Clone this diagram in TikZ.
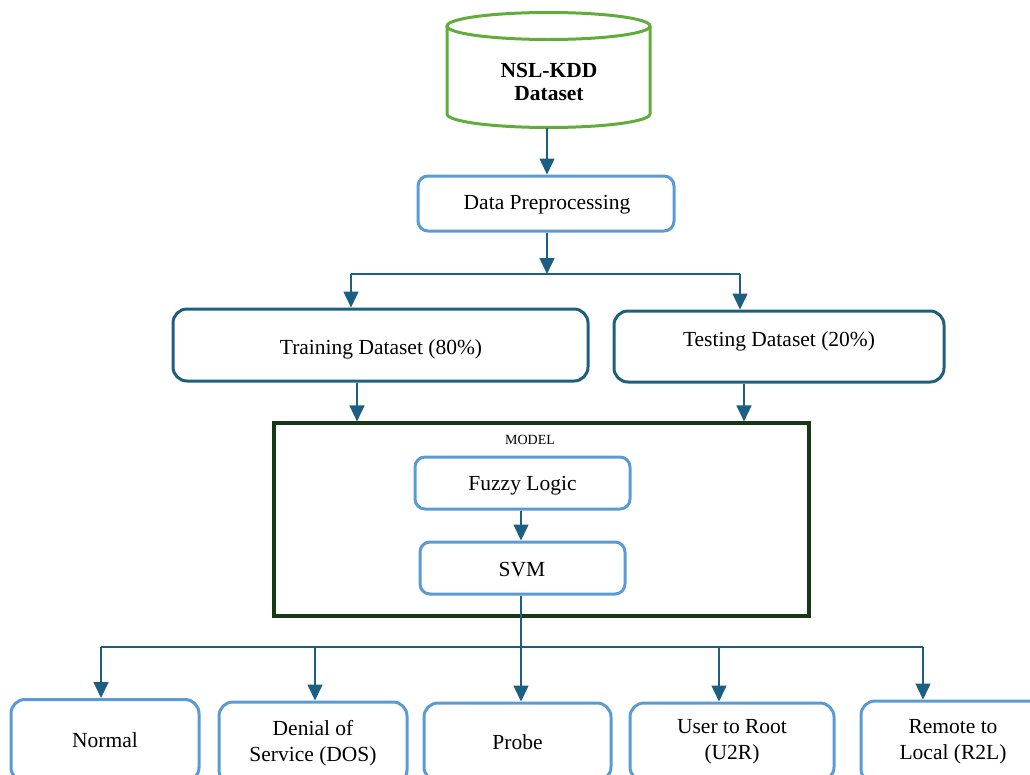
\documentclass[tikz,border=0pt]{standalone}
\usepackage{fontspec}
\setmainfont{Liberation Serif}
\usetikzlibrary{arrows.meta}
\definecolor{arrc}{HTML}{1B6083}
\definecolor{darkb}{HTML}{1F5F7E}
\definecolor{lightb}{HTML}{5B9BD5}
\definecolor{cylg}{HTML}{62AC3C}
\definecolor{modelg}{HTML}{173817}
\tikzset{
  conn/.style={draw=arrc, line width=1.5pt},
  arr/.style={conn, -{Triangle[width=15pt,length=16pt]}},
  lightbox/.style={draw=lightb, line width=3pt, rounded corners=10pt, inner sep=0pt},
  darkbox/.style={draw=darkb, line width=3pt, rounded corners=14pt, inner sep=0pt},
  txt/.style={font=\fontsize{21.5}{26}\selectfont, align=center, inner sep=0pt},
}
\begin{document}
\begin{tikzpicture}[x=1pt,y=-1pt]
\useasboundingbox (0,0) rectangle (1030,774);
% cylinder
\node[minimum width=204pt, minimum height=115pt, inner sep=0pt] (cyl) at (548.5,70.5) {};
\draw[draw=cylg, line width=3pt] (447,26) -- (447,114) arc[start angle=180,end angle=0,x radius=101.5,y radius=13.5] -- (650,26);
\draw[draw=cylg, line width=3pt] (548.5,26) ellipse [x radius=101.5, y radius=13.5];
\node[txt, font=\fontsize{21.5}{23}\selectfont\bfseries] (cyltext) at (549,81.5) {NSL-KDD\\Dataset};
% data preprocessing
\node[lightbox, minimum width=256pt, minimum height=55pt] (dp) at (546,203.5) {};
\node[txt] (dptxt) at (547,205) {Data Preprocessing};
% training / testing
\node[darkbox, minimum width=415pt, minimum height=72pt] (train) at (380.5,345) {};
\node[txt] (traintxt) at (381,349.5) {Training Dataset (80\%)};
\node[darkbox, minimum width=330pt, minimum height=71pt] (test) at (779,346.5) {};
\node[txt] (testtxt) at (779,341.5) {Testing Dataset (20\%)};
% model
\node[draw=modelg, line width=3.2pt, minimum width=535pt, minimum height=193pt, inner sep=0pt] (model) at (541.5,519.5) {};
\node[inner sep=0pt, font=\fontsize{14}{16}\selectfont] (modeltxt) at (530,440) {MODEL};
\node[lightbox, minimum width=215pt, minimum height=52pt] (fuzzy) at (522.5,483) {};
\node[txt] (fuzzytxt) at (522.5,485.5) {Fuzzy Logic};
\node[lightbox, minimum width=205pt, minimum height=52pt] (svm) at (522.5,568) {};
\node[txt] (svmtxt) at (522,570) {SVM};
% outputs
\node[lightbox, rounded corners=14pt, minimum width=188pt, minimum height=82pt, txt] (normal) at (105,740.5) {Normal};
\node[lightbox, rounded corners=14pt, minimum width=188pt, minimum height=82pt, txt] (dos) at (313,743) {Denial of\\Service (DOS)};
\node[lightbox, rounded corners=14pt, minimum width=187pt, minimum height=78pt, txt] (probe) at (517.5,742) {Probe};
\node[lightbox, rounded corners=14pt, minimum width=204pt, minimum height=78pt, txt] (u2r) at (732,742) {User to Root\\(U2R)};
\node[lightbox, rounded corners=14pt, minimum width=184pt, minimum height=82pt, txt] (r2l) at (953,742) {Remote to\\Local (R2L)};
% connectors
\coordinate (s1) at (547,274);
\coordinate (s1l) at (351,274);
\coordinate (s1r) at (740,274);
\draw[arr] (cyl.south -| 547,0) -- (547,0 |- dp.north);
\draw[arr] (dp.south -| s1) -- (s1);
\draw[conn] (s1l) -- (s1r);
\draw[arr] (s1l) -- (s1l |- train.north);
\draw[arr] (s1r) -- (s1r |- test.north);
\draw[arr] (train.south -| 357,0) -- (357,0 |- model.north);
\draw[arr] (test.south -| 744,0) -- (744,0 |- model.north);
\draw[arr] (fuzzy.south -| 521,0) -- (521,0 |- svm.north);
\coordinate (s2l) at (101,647);
\coordinate (s2a) at (315,647);
\coordinate (s2c) at (719,647);
\coordinate (s2r) at (923,647);
\draw[conn] (s2l) -- (s2r);
\draw[arr] (svm.south -| 521,0) -- (521,0 |- probe.north);
\draw[arr] (s2l) -- (s2l |- normal.north);
\draw[arr] (s2a) -- (s2a |- dos.north);
\draw[arr] (s2c) -- (s2c |- u2r.north);
\draw[arr] (s2r) -- (s2r |- r2l.north);
\end{tikzpicture}
\end{document}
